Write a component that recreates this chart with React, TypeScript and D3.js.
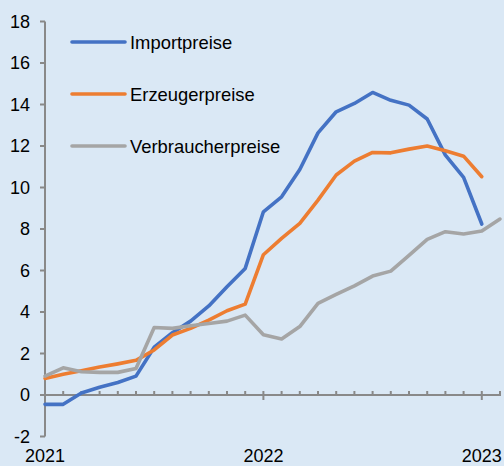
import React from "react";
import * as d3 from "d3";

const seriesNames = ["Importpreise", "Erzeugerpreise", "Verbraucherpreise"];
const seriesColors = ["#4472C4", "#ED7D31", "#A5A5A5"];

// monthly values, index 0 = Jan 2021
const importpreise = [-0.45, -0.45, 0.1, 0.37, 0.6, 0.91, 2.3, 3.0, 3.56, 4.29, 5.22, 6.1, 8.83, 9.55, 10.87, 12.63, 13.65, 14.05, 14.58, 14.2, 13.97, 13.3, 11.56, 10.49, 8.24];
const erzeugerpreise = [0.8, 1.0, 1.17, 1.35, 1.5, 1.67, 2.17, 2.89, 3.21, 3.61, 4.06, 4.38, 6.76, 7.55, 8.27, 9.39, 10.6, 11.27, 11.69, 11.67, 11.85, 12.0, 11.77, 11.51, 10.52];
const verbraucherpreise = [0.91, 1.31, 1.12, 1.09, 1.09, 1.28, 3.25, 3.21, 3.34, 3.45, 3.56, 3.85, 2.9, 2.7, 3.3, 4.42, 4.85, 5.26, 5.73, 5.97, 6.73, 7.5, 7.87, 7.76, 7.9, 8.48];

const yTicks = [-2, 0, 2, 4, 6, 8, 10, 12, 14, 16, 18];
const yearLabels = ["2021", "2022", "2023"];
const yearIndex = [0, 12, 24];
const monthCount = 25;

export default function App() {
  const W = 504, H = 466;
  const x = d3.scaleLinear().domain([0, monthCount]).range([45, 500]);
  const y = d3.scaleLinear().domain([-2, 18]).range([436.5, 21.5]);
  const allSeries = [importpreise, erzeugerpreise, verbraucherpreise];
  const line = d3.line<number>().x((_, i) => x(i)).y((d) => y(d));
  const font = "'Liberation Sans', Arial, sans-serif";
  const axisColor = "#898989";
  const minor = d3.range(1, monthCount + 1);

  return (
    <svg width={W} height={H} style={{ position: "absolute", left: 0, top: 0, display: "block" }} fontFamily={font}>
      <rect x={0} y={0} width={W} height={H} fill="#dae8f5" />
      {/* y axis */}
      <line x1={x(0)} x2={x(0)} y1={y(-2)} y2={y(18)} stroke={axisColor} strokeWidth={2} />
      {yTicks.map((t) => (
        <g key={t}>
          <line x1={x(0) - 5} x2={x(0)} y1={y(t)} y2={y(t)} stroke={axisColor} strokeWidth={2} />
          <text x={30} y={y(t)} dy="0.36em" textAnchor="end" fontSize={18} fill="#000">{t}</text>
        </g>
      ))}
      {/* x axis */}
      <line x1={x(0)} x2={x(monthCount) + 1} y1={y(0)} y2={y(0)} stroke={axisColor} strokeWidth={2} />
      {minor.map((m) => (
        <line key={m} x1={x(m)} x2={x(m)} y1={yearIndex.includes(m) ? y(0) + 5 : y(0)} y2={y(0) - 4} stroke={axisColor} strokeWidth={2} />
      ))}
      {yearLabels.map((lab, i) => (
        <text key={lab} x={x(yearIndex[i])} y={462} textAnchor="middle" fontSize={18} fill="#000">{lab}</text>
      ))}
      {/* series */}
      {allSeries.map((s, i) => (
        <path key={i} d={line(s) || ""} fill="none" stroke={seriesColors[i]} strokeWidth={3.6} strokeLinejoin="round" strokeLinecap="round" />
      ))}
      {/* legend */}
      {seriesNames.map((n, i) => {
        const ly = 42 + i * 52;
        return (
          <g key={n}>
            <line x1={72} x2={125} y1={ly} y2={ly} stroke={seriesColors[i]} strokeWidth={3.6} strokeLinecap="round" />
            <text x={130} y={ly} dy="0.36em" fontSize={18.4} fill="#000">{n}</text>
          </g>
        );
      })}
    </svg>
  );
}
